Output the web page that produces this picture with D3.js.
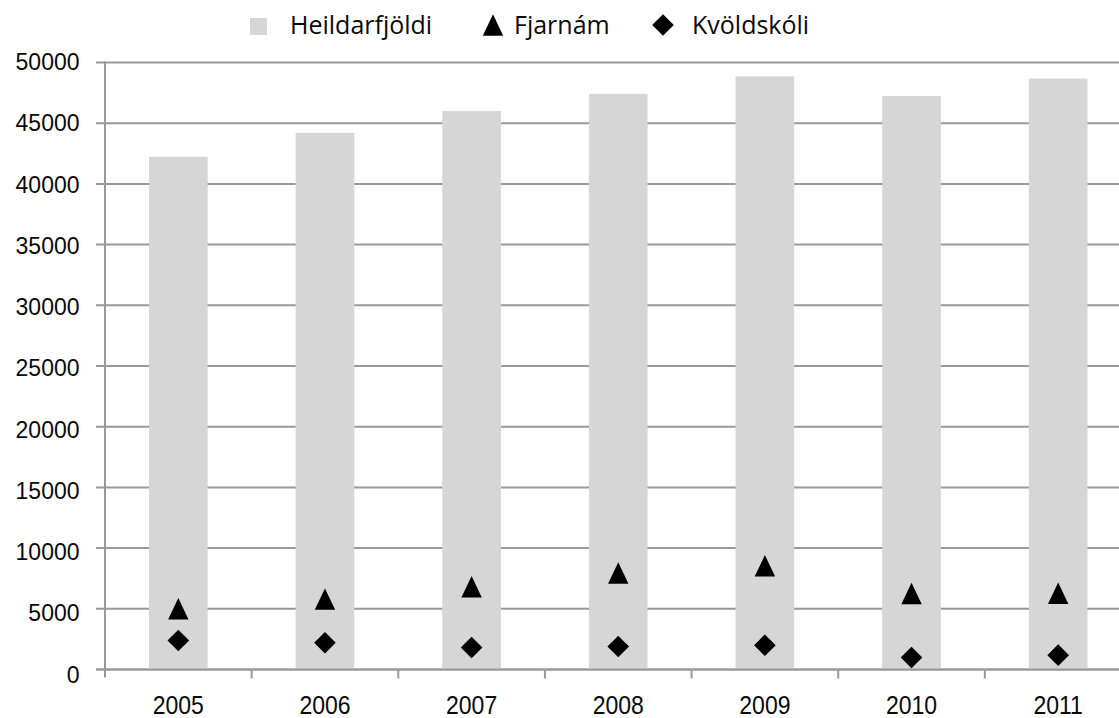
<!DOCTYPE html>
<html><head><meta charset="utf-8">
<script src="https://cdn.jsdelivr.net/npm/d3@7"></script>
<style>html,body{margin:0;padding:0;background:#fff;}svg{display:block;}</style>
</head><body>
<svg id="chart" width="1119" height="718"></svg>
<script>
const years = ["2005","2006","2007","2008","2009","2010","2011"];
const heildarfjoldi = [42230, 44200, 46000, 47420, 48860, 47250, 48680];
const fjarnam = [5000, 5800, 6820, 7950, 8540, 6260, 6280];
const kvoldskoli = [2390, 2200, 1810, 1890, 2000, 990, 1180];
const yTicks = [0,5000,10000,15000,20000,25000,30000,35000,40000,45000,50000];
const legendLabels = ["Heildarfjöldi","Fjarnám","Kvöldskóli"];

const svg = d3.select("#chart");
const x = d3.scaleBand().domain(years).range([105, 1131.5]).paddingInner(0).paddingOuter(0);
const y = d3.scaleLinear().domain([0, 50000]).range([669.5, 62.5]);
const gridColor = "#999";

// gridlines
svg.append("g").selectAll("line").data(yTicks).join("line")
  .attr("x1", 96).attr("x2", 1119)
  .attr("y1", d => y(d)).attr("y2", d => y(d))
  .attr("stroke", gridColor).attr("stroke-width", 2);

// bars
const bw = x.bandwidth() * 0.4;
svg.append("g").selectAll("rect").data(years).join("rect")
  .attr("x", (d) => x(d) + x.bandwidth()/2 - bw/2)
  .attr("width", bw)
  .attr("y", (d,i) => y(heildarfjoldi[i]))
  .attr("height", (d,i) => y(0) - y(heildarfjoldi[i]))
  .attr("fill", "#d6d6d6");

// x axis line + ticks
svg.append("line").attr("x1", 96).attr("x2", 1119).attr("y1", y(0)).attr("y2", y(0))
  .attr("stroke", gridColor).attr("stroke-width", 2);
svg.append("line").attr("x1", 105).attr("x2", 105).attr("y1", y(50000)-1).attr("y2", y(0)+8)
  .attr("stroke", gridColor).attr("stroke-width", 2);
svg.append("g").selectAll("line").data(years.slice(1)).join("line")
  .attr("x1", d => x(d)).attr("x2", d => x(d))
  .attr("y1", y(0)).attr("y2", y(0)+9)
  .attr("stroke", gridColor).attr("stroke-width", 2);

// y labels
svg.append("g").selectAll("text").data(yTicks).join("text")
  .attr("transform", d => `translate(79.5,${y(d) + 7.6 + (1 - d/50000)*5.5}) scale(1,1.08)`)
  .attr("text-anchor", "end")
  .attr("font-family", "Liberation Sans, Arial, sans-serif")
  .attr("font-size", 23)
  .attr("fill", "#0a0a0a")
  .text(d => d);

// x labels
svg.append("g").selectAll("text").data(years).join("text")
  .attr("transform", d => `translate(${x(d) + x.bandwidth()/2},713.5) scale(1,1.16)`)
  .attr("text-anchor", "middle")
  .attr("font-family", "Liberation Sans, Arial, sans-serif")
  .attr("font-size", 23)
  .attr("fill", "#0a0a0a")
  .text(d => d);

const triPath = "M0,-10.7L10.2,10.7L-10.2,10.7Z";
const diaPath = "M0,-10.8L10.8,0L0,10.8L-10.8,0Z";
const cx = d => x(d) + x.bandwidth()/2;

svg.append("g").selectAll("path").data(years).join("path")
  .attr("transform", (d,i) => `translate(${cx(d)},${y(fjarnam[i])})`)
  .attr("d", triPath).attr("fill", "#000");
svg.append("g").selectAll("path").data(years).join("path")
  .attr("transform", (d,i) => `translate(${cx(d)},${y(kvoldskoli[i])})`)
  .attr("d", diaPath).attr("fill", "#000");

// legend
const lg = svg.append("g").attr("font-family", "Open Sans, sans-serif").attr("font-size", 25).attr("fill", "#0a0a0a");
lg.append("rect").attr("x", 250).attr("y", 18).attr("width", 17).attr("height", 17).attr("fill", "#d6d6d6");
lg.append("text").attr("x", 290).attr("y", 34).text(legendLabels[0]);
lg.append("path").attr("transform", "translate(493,25)").attr("d", triPath).attr("fill", "#000");
lg.append("text").attr("x", 514).attr("y", 34).text(legendLabels[1]);
lg.append("path").attr("transform", "translate(663,25)").attr("d", diaPath).attr("fill", "#000");
lg.append("text").attr("x", 692).attr("y", 34).text(legendLabels[2]);
</script>
</body></html>
